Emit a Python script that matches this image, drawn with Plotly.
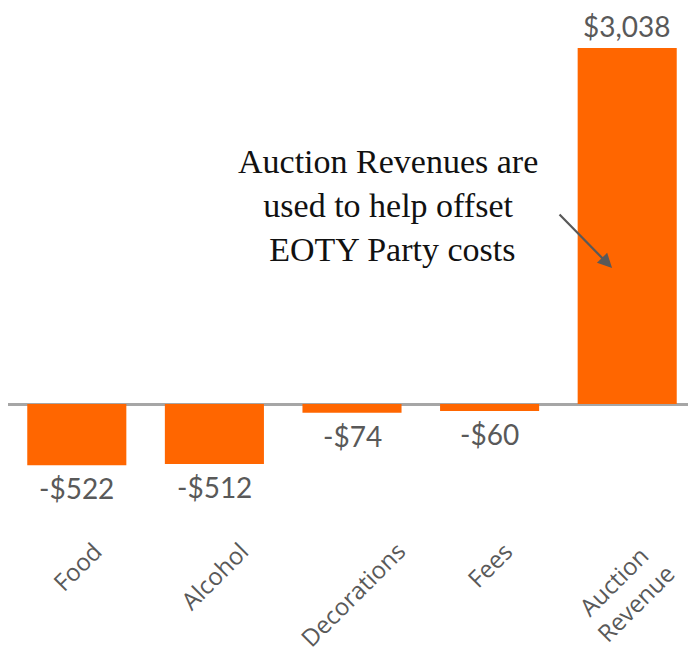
import plotly.graph_objects as go

categories = ["Food", "Alcohol", "Decorations", "Fees", "Auction Revenue"]
category_labels = ["Food", "Alcohol", "Decorations", "Fees", "Auction<br>Revenue"]
values = [-522, -512, -74, -60, 3038]
value_labels = ["-$522", "-$512", "-$74", "-$60", "$3,038"]

orange = "#FF6600"
grey = "#595959"

fig = go.Figure()
fig.add_trace(go.Bar(
    x=categories, y=values,
    marker=dict(color=orange, line=dict(width=0)),
    width=0.72,
))

# value labels just outside each bar end
for cat, v, lab in zip(categories, values, value_labels):
    fig.add_annotation(
        x=cat, y=v, xref="x", yref="y", text=lab, showarrow=False,
        xanchor="center", yanchor="middle", yshift=(-23 if v < 0 else 22),
        font=dict(family="Lato", size=28, color=grey),
    )

# rotated category labels, centred under each bar
for cat, lab in zip(categories, category_labels):
    fig.add_annotation(
        x=cat, y=-0.004, xref="x", yref="paper", text=lab, showarrow=False,
        textangle=-45, xanchor="center", yanchor="top", align="center",
        xshift=(-3 if "<br>" in lab else 0),
        font=dict(family="Open Sans", size=24, color=grey),
    )

fig.add_annotation(
    x=0.552, y=1690, xref="paper", yref="y",
    text="Auction Revenues are<br>used to help offset<br> EOTY Party costs",
    showarrow=False, font=dict(family="Liberation Serif", size=34, color="#111111"),
    align="center", xanchor="center", yanchor="middle",
)
fig.add_annotation(
    x=0.878, y=1160, ax=-54, ay=-55,
    xref="paper", yref="y", axref="pixel", ayref="pixel",
    text="", showarrow=True, arrowhead=2, arrowsize=1.3, arrowwidth=2.2,
    arrowcolor=grey,
)

fig.update_layout(
    width=688, height=652,
    margin=dict(l=0, r=0, t=0, b=130, autoexpand=False),
    paper_bgcolor="white", plot_bgcolor="white",
    showlegend=False,
    xaxis=dict(showticklabels=False, showgrid=False, showline=False, ticks="",
               automargin=False),
    yaxis=dict(range=[-1075, 3379], showticklabels=False, showgrid=False, ticks="",
               zeroline=True, zerolinecolor="#A6A6A6", zerolinewidth=2.5,
               automargin=False),
)

fig.write_html("out.html")
